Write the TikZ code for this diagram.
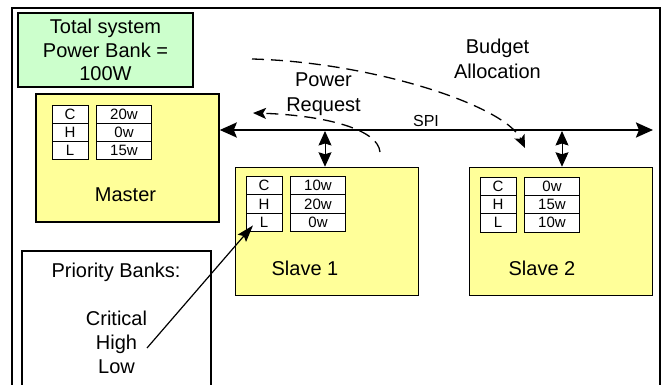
\documentclass[tikz,border=0pt]{standalone}
\usepackage{fontspec}
\setmainfont{Liberation Sans}
\usetikzlibrary{arrows.meta}
\definecolor{bankgreen}{HTML}{CCFFCC}
\definecolor{unityellow}{HTML}{FFFF99}
% Three-row priority table: #1 name prefix, #2/#3 top-left corner, #4-#6 budgets
\newcommand\banktable[6]{%
  \node[keycell, anchor=north west] (#1C) at (#2,#3) {C};
  \node[keycell, anchor=north] (#1H) at (#1C.south) {H};
  \node[keycell, anchor=north] (#1L) at (#1H.south) {L};
  \node[valcell, anchor=north west] (#1Cv) at ([xshift=8.5pt]#1C.north east) {#4};
  \node[valcell, anchor=north] (#1Hv) at (#1Cv.south) {#5};
  \node[valcell, anchor=north] (#1Lv) at (#1Hv.south) {#6};
}
\begin{document}
\begin{tikzpicture}[x=1pt, y=-1pt,
  frame/.style={draw, line width=2pt},
  unitbox/.style={draw, line width=1.5pt, fill=unityellow,
    minimum width=183pt, minimum height=128pt, inner sep=0pt},
  cell/.style={draw, line width=0.8pt, fill=white, minimum height=18.3pt,
    inner sep=0pt, outer sep=0pt, font=\fontsize{15}{15}\selectfont},
  keycell/.style={cell, minimum width=36pt},
  valcell/.style={cell, minimum width=55pt},
  bigtext/.style={font=\fontsize{20}{24}\selectfont, align=center, inner sep=0pt},
  bus/.style={line width=2.5pt,
    arrows={Stealth[length=17pt,width=15pt,inset=3pt]-Stealth[length=17pt,width=15pt,inset=3pt]}},
  link/.style={line width=1pt,
    arrows={Stealth[length=14.5pt,width=13pt,inset=2pt]-Stealth[length=14.5pt,width=13pt,inset=2pt]}},
  flow/.style={line width=1.3pt, dash pattern=on 12pt off 7pt,
    -{Stealth[length=13pt,width=11pt,inset=3pt]}},
  pointer/.style={line width=1.2pt, -{Stealth[length=17pt,width=11pt,inset=3pt]}}
]
\useasboundingbox (0,0) rectangle (664,385);
\clip (0,0) rectangle (664,385);
\fill[white] (0,0) rectangle (664,385);

% outer frame, running past the lower edge
\draw[frame] (12,8) rectangle (660,420);

% total power bank
\node[draw, line width=1.5pt, fill=bankgreen, minimum width=175pt, minimum height=74pt,
  bigtext, font=\fontsize{20}{23.5}\selectfont] (totalbank) at (105.5,50)
  {Total system\\Power Bank =\\100W};

% units
\node[unitbox] (master) at (127.5,158) {};
\node[unitbox] (slave1) at (327,231.5) {};
\node[unitbox] (slave2) at (561,231.5) {};
\node[bigtext] (masterlabel) at (125.5,195) {Master};
\node[bigtext] (slave1label) at (305,268) {Slave 1};
\node[bigtext] (slave2label) at (542,268) {Slave 2};

\banktable{m}{52}{105}{20w}{0w}{15w}
\banktable{a}{246}{176.5}{10w}{20w}{0w}
\banktable{b}{480}{177}{0w}{15w}{10w}

% priority legend
\node[draw, line width=1.2pt, fill=white, minimum width=189pt, minimum height=200pt,
  inner sep=0pt] (prio) at (116.5,351) {};
\node[bigtext] (priotitle) at (116,272) {Priority Banks:};
\node[bigtext] (priolist) at (116.5,342) {Critical\\High\\Low};
\coordinate (highptr) at (147,348);

% SPI bus
\coordinate (spiend) at (653,130);
\draw[bus] (spiend -| master.east) -- (spiend);
\node[inner sep=0pt, font=\fontsize{16}{16}\selectfont] (spilabel) at (426,121) {SPI};
\coordinate (tap1) at (325,131);
\coordinate (tap2) at (562,131);
\draw[link] (tap1) -- (tap1 |- slave1.north);
\draw[link] (tap2) -- (tap2 |- slave2.north);

% request and allocation flows
\coordinate (reqstart) at (380,152);
\coordinate (reqend) at (253,113);
\draw[flow] (reqstart) .. controls (378,128) and (320,115) .. (reqend);
\node[bigtext, font=\fontsize{20}{25}\selectfont] (reqlabel) at (323.5,94.5) {Power\\Request};

\coordinate (allocstart) at (252,59);
\coordinate (allocend) at (525,148);
\draw[flow] (allocstart) .. controls (370,62) and (505,105) .. (allocend);
\node[bigtext, font=\fontsize{20}{25}\selectfont] (alloclabel) at (497.5,59) {Budget\\Allocation};

% legend pointer into the Slave 1 table
\draw[pointer] (highptr) -- ([xshift=7pt,yshift=6pt]aL.south west);
\end{tikzpicture}
\end{document}
